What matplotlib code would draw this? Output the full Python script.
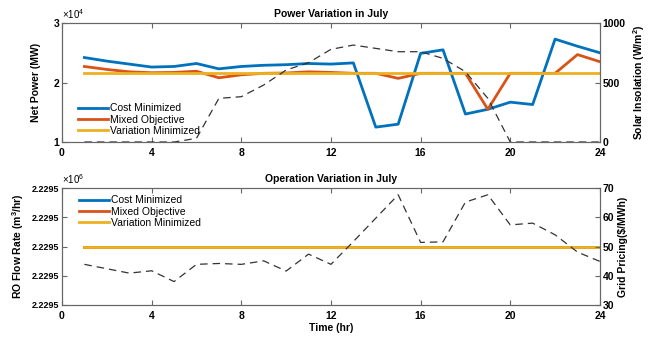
import matplotlib
matplotlib.use('Agg')
import matplotlib.pyplot as plt
import numpy as np
from matplotlib.ticker import FuncFormatter

plt.rcParams['font.family'] = ['Liberation Sans', 'DejaVu Sans']
plt.rcParams['font.size'] = 7.5
plt.rcParams['mathtext.default'] = 'regular'

hours = np.arange(1, 25)

# net power, x10^4 MW
cost_power = [2.42, 2.36, 2.31, 2.26, 2.27, 2.32, 2.23, 2.27, 2.29, 2.30, 2.32, 2.31,
              2.33, 1.25, 1.30, 2.49, 2.55, 1.47, 1.55, 1.67, 1.63, 2.73, 2.61, 2.50]
mixed_power = [2.27, 2.22, 2.18, 2.165, 2.17, 2.19, 2.08, 2.13, 2.155, 2.16, 2.18, 2.17,
               2.155, 2.155, 2.07, 2.155, 2.155, 2.155, 1.55, 2.155, 2.155, 2.155, 2.47, 2.35]
var_power = [2.155] * 24
solar = [0, 0, 0, 0, 0, 31, 367, 381, 479, 605, 667, 779,
         815, 787, 759, 759, 703, 591, 367, 0, 0, 0, 0, 0]

# RO flow (m^3/hr) - flat for all three cases
flow_val = 2229500.0
cost_flow = [flow_val] * 24
mixed_flow = [flow_val] * 24
var_flow = [flow_val] * 24
price = [43.9, 42.4, 40.9, 41.7, 38.0, 43.9, 44.2, 43.9, 45.1, 41.6, 47.4, 43.9,
         51.7, 59.7, 67.7, 51.4, 51.6, 65.2, 67.7, 57.4, 58.0, 54.0, 48.1, 44.9]

c_blue, c_red, c_yel = '#0072BD', '#D95319', '#EDB120'
spine_c = '#666666'
bold = dict(fontweight='bold')

fig = plt.figure(figsize=(6.56, 3.37), dpi=100)


def style(ax):
    for s in ax.spines.values():
        s.set_color(spine_c)
        s.set_linewidth(0.8)
    ax.tick_params(direction='in', length=3.5, color=spine_c, width=0.8, pad=2)
    ax.tick_params(axis='x', pad=4)
    for lab in ax.get_xticklabels() + ax.get_yticklabels():
        lab.set_fontweight('bold')


leg_kw = dict(frameon=False, handlelength=2.9, handletextpad=0.15, labelspacing=0.12)

# ---- top: power ----
ax1 = fig.add_axes([0.0945, 0.5786, 0.820, 0.353])
ax1.plot(hours, cost_power, color=c_blue, lw=2, label='Cost Minimized')
ax1.plot(hours, mixed_power, color=c_red, lw=2, label='Mixed Objective')
ax1.plot(hours, var_power, color=c_yel, lw=2, label='Variation Minimized')
ax1.set_xlim(0, 24)
ax1.set_ylim(1, 3)
ax1.set_xticks(range(0, 25, 4))
ax1.set_yticks([1, 2, 3])
ax1.tick_params(top=True)
ax1.set_ylabel('Net Power (MW)', **bold, labelpad=9)
ax1.set_title('Power Variation in July', **bold, fontsize=7.5, pad=4)
ax1.text(0.0, 1.02, r'$\times 10^4$', transform=ax1.transAxes, fontsize=7, va='bottom')
ax1.legend(loc='lower left', borderaxespad=0.2, bbox_to_anchor=(0.018, 0.0), **leg_kw)
style(ax1)

ax1r = ax1.twinx()
ax1r.plot(hours, solar, color='#333333', lw=0.9, ls=(0, (6, 4)))
ax1r.set_ylim(0, 1000)
ax1r.set_yticks([0, 500, 1000])
ax1r.set_ylabel('Solar Insolation (W/m$^{2}$)', **bold, rotation=90, labelpad=4)
style(ax1r)

# ---- bottom: operation ----
ax2 = fig.add_axes([0.0945, 0.095, 0.820, 0.347])
ax2.plot(hours, cost_flow, color=c_blue, lw=2, label='Cost Minimized')
ax2.plot(hours, mixed_flow, color=c_red, lw=2, label='Mixed Objective')
ax2.plot(hours, var_flow, color=c_yel, lw=2, label='Variation Minimized')
ax2.set_xlim(0, 24)
ax2.set_ylim(flow_val - 2, flow_val + 2)
ax2.set_yticks(np.linspace(flow_val - 2, flow_val + 2, 5))
ax2.yaxis.set_major_formatter(FuncFormatter(lambda v, p: f'{v / 1e6:.4f}'))
ax2.set_xticks(range(0, 25, 4))
ax2.tick_params(top=True)
ax2.set_xlabel('Time (hr)', **bold, labelpad=2)
ax2.set_ylabel('RO Flow Rate (m$^{3}$/hr)', **bold, labelpad=4)
ax2.set_title('Operation Variation in July', **bold, fontsize=7.5, pad=4)
ax2.text(0.0, 1.02, r'$\times 10^6$', transform=ax2.transAxes, fontsize=7, va='bottom')
ax2.legend(loc='upper left', borderaxespad=0.3, bbox_to_anchor=(0.018, 1.0), **leg_kw)
style(ax2)
for lab in ax2.get_yticklabels():
    lab.set_fontsize(6.5)

ax2r = ax2.twinx()
ax2r.plot(hours, price, color='#333333', lw=0.9, ls=(0, (6, 4)))
ax2r.set_ylim(30, 70)
ax2r.set_yticks([30, 40, 50, 60, 70])
ax2r.set_ylabel('Grid Pricing($/MWh)', **bold, rotation=90, labelpad=3)
style(ax2r)

fig.savefig('out.png', dpi=100)
